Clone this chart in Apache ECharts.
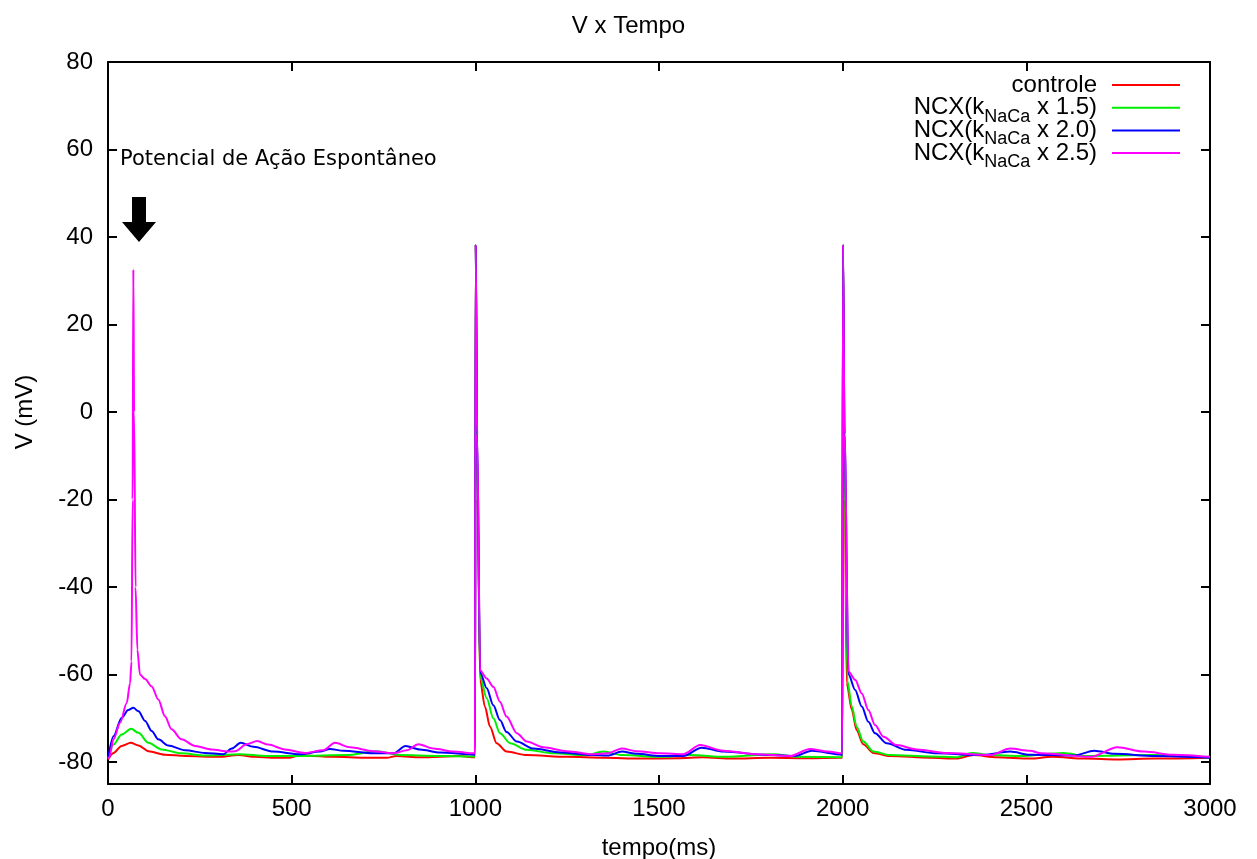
<!DOCTYPE html>
<html>
<head>
<meta charset="utf-8">
<script src="https://cdn.jsdelivr.net/npm/echarts@6/dist/echarts.min.js"></script>
<style>html,body{margin:0;padding:0;background:#fff}#c{width:1257px;height:859px}</style>
</head>
<body>
<div id="c"></div>
<script>
const seriesNames = ['controle', 'NCX(k{sub|NaCa} x 1.5)', 'NCX(k{sub|NaCa} x 2.0)', 'NCX(k{sub|NaCa} x 2.5)'];
const seriesColors = ['#ff0000', '#00ee00', '#0000ff', '#ff00ff'];
const yTicks = [-80, -60, -40, -20, 0, 20, 40, 60, 80];

// controle (red)
const tControle = [0,15,37,62,83,110,155,210,300,355,400,446,495,523,560,614,700,759,786,850,958,999,
  1000,1001,1006,1013,1026,1040,1058,1085,1140,1250,1350,1450,1550,1620,1700,1800,1900,1999,
  2000,2001,2006,2011,2025,2038,2056,2084,2129,2238,2310,2356,2420,2510,2570,2660,2747,2850,3000];
const vControle = [-79.4,-77.9,-76.3,-75.6,-76.2,-77.5,-78.3,-78.6,-78.8,-78.4,-78.8,-79.0,-79.0,-78.4,-78.6,-78.8,-79.0,-79.0,-78.6,-78.9,-78.6,-78.9,
  -78.9,38.2,-20,-61.2,-67.3,-71.9,-75.7,-77.6,-78.4,-78.8,-79.0,-79.2,-79.1,-78.9,-79.2,-79.0,-79.1,-79.0,
  -79.0,38.2,-20,-62,-68.1,-72.7,-75.9,-77.9,-78.6,-79.0,-79.2,-78.4,-78.9,-79.2,-78.8,-79.2,-79.4,-79.2,-79.0];

// NCX x 1.5 (green)
const tNcx15 = [0,15,37,63,83,110,146,200,264,359,432,523,650,731,795,900,999,
  1000,1001,1005,1013,1031,1049,1067,1095,1140,1213,1300,1349,1400,1503,1585,1680,1811,1880,1999,
  2000,2001,2005,2013,2025,2038,2056,2084,2129,2238,2310,2352,2401,2480,2602,2660,2842,3000];
const vNcx15 = [-79.2,-76.0,-73.7,-72.4,-73.3,-75.6,-77.1,-78.0,-78.5,-78.2,-78.6,-78.6,-78.4,-77.5,-78.4,-78.6,-78.7,
  -78.7,38.2,-10,-60.5,-65.4,-70.0,-73.4,-75.7,-77.2,-78.0,-78.4,-77.6,-78.4,-78.8,-78.4,-78.8,-78.2,-78.8,-78.9,
  -78.9,38.2,-10,-61.5,-67.3,-71.9,-75.3,-77.6,-78.4,-78.7,-78.9,-77.9,-78.4,-78.6,-77.9,-78.6,-78.4,-79.0];

// NCX x 2.0 (blue)
const tNcx20 = [0,15,37,55,69,83,101,119,137,164,210,264,314,337,361,396,450,523,577,604,641,722,777,810,849,904,999,
  1000,1001,1005,1013,1031,1049,1067,1085,1113,1158,1231,1321,1360,1399,1439,1503,1566,1616,1675,1800,1870,1916,1999,
  2000,2001,2005,2016,2034,2052,2070,2088,2120,2174,2256,2375,2456,2510,2630,2685,2740,2850,3000];
const vNcx20 = [-79.2,-74.1,-69.9,-68.1,-67.6,-68.4,-70.6,-72.9,-74.8,-76.2,-77.3,-77.9,-78.2,-76.9,-75.6,-76.5,-77.6,-78.2,-77.6,-77.0,-77.4,-78.0,-78.0,-76.3,-77.1,-77.8,-78.3,
  -78.3,38.2,-5,-59.5,-63.1,-67.0,-70.4,-73.1,-75.3,-76.9,-77.8,-78.4,-78.5,-77.6,-78.1,-78.6,-78.6,-76.7,-77.6,-78.4,-78.6,-77.4,-78.3,
  -78.3,38.2,-5,-60.0,-63.5,-67.3,-70.8,-73.4,-75.7,-77.2,-78.0,-78.4,-77.6,-78.3,-78.5,-77.4,-78.1,-78.6,-79.0];

// NCX x 2.5 (magenta)
const tNcx25 = [0,3,15,33,51,60,64,67,69,71,75,80,87,101,119,137,155,173,200,237,282,328,346,378,406,436,482,536,586,618,659,722,777,813,845,886,940,999,
  1000,1001,1005,1013,1031,1049,1067,1085,1113,1140,1185,1249,1321,1360,1399,1439,1503,1566,1612,1675,1766,1857,1911,1960,1999,
  2000,2001,2005,2016,2034,2052,2070,2088,2111,2147,2202,2283,2401,2456,2510,2540,2675,2748,2821,2900,3000];
const vNcx25 = [-79.2,-79.0,-74.8,-71.0,-66.5,-62.0,-57.0,-20,32.6,0,-40,-54.3,-60.0,-61.0,-62.7,-65.7,-69.5,-72.5,-74.8,-76.3,-77.1,-77.6,-77.5,-75.9,-75.2,-76.0,-77.1,-77.9,-77.3,-75.6,-76.6,-77.5,-78.0,-77.3,-75.9,-76.9,-77.6,-78.0,
  -78.0,38.2,-5,-59.0,-60.9,-62.8,-66.2,-69.6,-73.4,-75.3,-76.6,-77.5,-78.2,-78.0,-76.9,-77.5,-78.0,-78.2,-76.1,-77.4,-78.2,-78.6,-77.0,-77.6,-78.0,
  -78.0,38.2,-5,-59.3,-61.2,-64.3,-68.1,-71.5,-74.2,-76.1,-77.1,-77.9,-78.4,-76.9,-77.4,-78.0,-78.8,-76.6,-77.6,-78.3,-78.8];

const allT = [tControle, tNcx15, tNcx20, tNcx25];
const allV = [vControle, vNcx15, vNcx20, vNcx25];

const FONT = 'Liberation Sans';
const FS = 24;
const chart = echarts.init(document.getElementById('c'), null, {renderer: 'canvas'});

const series = seriesNames.map((name, i) => ({
  name: name,
  type: 'line',
  xAxisIndex: 0,
  yAxisIndex: 0,
  symbol: 'none',
  showSymbol: false,
  smooth: 0.3,
  smoothMonotone: 'x',
  animation: false,
  lineStyle: {color: seriesColors[i], width: 2},
  itemStyle: {color: seriesColors[i]},
  data: allT[i].map((t, k) => [t, allV[i][k]])
}));

const axisLineStyle = {show: true, onZero: false, lineStyle: {color: '#000', width: 2}};
const tickStyle = {show: true, inside: true, length: 9, lineStyle: {color: '#000', width: 2}};

function legendLabel(name) {
  const m = name.match(/^([^{]*)\{sub\|([^}]*)\}(.*)$/);
  if (!m) return '{m|' + name + '}{z| }';
  return '{m|' + m[1] + '}{sub|' + m[2] + '}{m|' + m[3] + '}';
}

const subStyle = {fontFamily: FONT, fontSize: 18, color: '#000', lineHeight: 24, height: 6, verticalAlign: 'bottom'};

chart.setOption({
  animation: false,
  backgroundColor: '#fff',
  title: {
    text: 'V x Tempo', left: 'center', top: 9,
    textStyle: {fontFamily: FONT, fontSize: FS, fontWeight: 'normal', color: '#000'}
  },
  legend: {
    orient: 'vertical', align: 'right', right: 72, top: 68, itemGap: -7.3,
    itemWidth: 68, itemHeight: 2, icon: 'rect',
    data: seriesNames,
    formatter: legendLabel,
    textStyle: {
      fontFamily: FONT, fontSize: FS, color: '#000', lineHeight: 24, padding: [0, 10, 0, 0],
      rich: {
        m: {fontFamily: FONT, fontSize: FS, color: '#000', lineHeight: 24},
        sub: subStyle,
        z: Object.assign({}, subStyle, {width: 0})
      }
    }
  },
  grid: {left: 108, right: 47, top: 62, bottom: 75, containLabel: false, outerBoundsMode: 'none'},
  xAxis: [{
    type: 'value', min: 0, max: 3000, interval: 500, position: 'bottom',
    name: 'tempo(ms)', nameLocation: 'middle', nameGap: 52,
    nameTextStyle: {fontFamily: FONT, fontSize: FS, color: '#000'},
    axisLine: axisLineStyle, axisTick: tickStyle,
    axisLabel: {fontFamily: FONT, fontSize: FS, color: '#000', margin: 13, formatter: v => String(v)},
    splitLine: {show: false}
  }, {
    type: 'value', min: 0, max: 3000, interval: 500, position: 'top',
    axisLine: axisLineStyle, axisTick: tickStyle,
    axisLabel: {show: false}, splitLine: {show: false}
  }],
  yAxis: [{
    type: 'value', min: -85, max: 80, position: 'left',
    name: 'V (mV)', nameLocation: 'middle', nameGap: 71, nameRotate: 90,
    nameTextStyle: {fontFamily: FONT, fontSize: FS, color: '#000', padding: [0, 0, 0, 22]},
    axisLine: axisLineStyle,
    axisTick: Object.assign({customValues: yTicks}, tickStyle),
    axisLabel: {fontFamily: FONT, fontSize: FS, color: '#000', margin: 15, customValues: yTicks, formatter: v => String(v)},
    splitLine: {show: false}
  }, {
    type: 'value', min: -85, max: 80, position: 'right',
    axisLine: axisLineStyle,
    axisTick: Object.assign({customValues: yTicks}, tickStyle),
    axisLabel: {show: false, customValues: yTicks}, splitLine: {show: false}
  }],
  graphic: [{
    type: 'text', left: 120, top: 149,
    style: {text: 'Potencial de Ação Espontâneo', font: '21px "DejaVu Sans"', fill: '#000'}
  }, {
    type: 'polygon',
    shape: {points: [[132, 197], [146, 197], [146, 222], [156, 222], [139, 242], [122, 222], [132, 222]]},
    style: {fill: '#000'}
  }],
  series: series
});
</script>
</body>
</html>
